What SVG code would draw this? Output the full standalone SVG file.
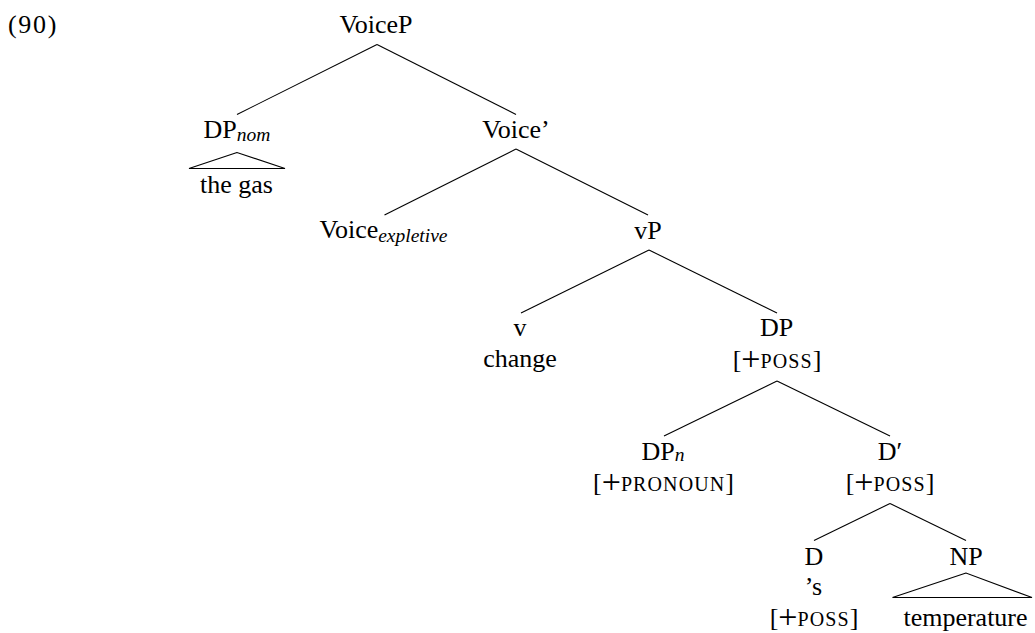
<svg xmlns="http://www.w3.org/2000/svg" width="1035" height="633" viewBox="0 0 1035 633" font-family="'Liberation Serif', 'DejaVu Serif', serif">
<style>
text{font-family:'Liberation Serif','DejaVu Serif',serif;font-size:26px;fill:#000;text-anchor:middle}
.sub{font-size:19.5px;font-style:italic}
.sc{font-size:20px;letter-spacing:1.1px}
.pl{font-size:34px}
.edge{stroke:#000;stroke-width:1.1;fill:none}
.tri{stroke:#000;stroke-width:1.1;fill:none;stroke-linejoin:miter}
</style>
<rect width="1035" height="633" fill="#fff"/>
<text x="8" y="33" style="text-anchor:start;letter-spacing:1.7px">(90)</text>
<g id="connectors">
<line class="edge" x1="377" y1="44.5" x2="237" y2="114.5"/>
<line class="edge" x1="377" y1="44.5" x2="516" y2="114.5"/>
<line class="edge" x1="516" y1="149" x2="384.5" y2="215"/>
<line class="edge" x1="516" y1="149" x2="648" y2="215"/>
<line class="edge" x1="649" y1="250" x2="521" y2="313"/>
<line class="edge" x1="649" y1="250" x2="777" y2="313"/>
<line class="edge" x1="777" y1="381" x2="664" y2="436"/>
<line class="edge" x1="777" y1="381" x2="890" y2="436"/>
<line class="edge" x1="890" y1="503.5" x2="814" y2="540.5"/>
<line class="edge" x1="890" y1="503.5" x2="966" y2="540.5"/>
</g>
<g id="n-voicep"><text x="376" y="33">VoiceP</text></g>
<g id="n-dpnom">
<text x="237" y="137.5">DP<tspan class="sub" dy="3.5">nom</tspan></text>
<polygon class="tri" points="237,152.5 189,168.5 285,168.5"/>
<text x="236.5" y="193">the gas</text>
</g>
<g id="n-voicebar"><text x="516" y="137.5">Voice’</text></g>
<g id="n-voiceexpl"><text x="383.5" y="238">Voice<tspan class="sub" dy="4">expletive</tspan></text></g>
<g id="n-vp"><text x="648" y="238.5">vP</text></g>
<g id="n-v">
<text x="520" y="336">v</text>
<text x="520" y="367">change</text>
</g>
<g id="n-dp">
<text x="776.5" y="336">DP</text>
<text x="777" y="368">[<tspan class="pl" dy="2">+</tspan><tspan class="sc" dy="-2">POSS</tspan>]</text>
</g>
<g id="n-dpn">
<text x="663" y="459.5">DP<tspan class="sub" dy="1">n</tspan></text>
<text x="663.5" y="491">[<tspan class="pl" dy="2">+</tspan><tspan class="sc" dy="-2">PRONOUN</tspan>]</text>
</g>
<g id="n-dbar">
<text x="890" y="459.5">D′</text>
<text x="890" y="491">[<tspan class="pl" dy="2">+</tspan><tspan class="sc" dy="-2">POSS</tspan>]</text>
</g>
<g id="n-d">
<text x="814" y="564.5">D</text>
<text x="813.5" y="595">’s</text>
<text x="814" y="626">[<tspan class="pl" dy="2">+</tspan><tspan class="sc" dy="-2">POSS</tspan>]</text>
</g>
<g id="n-np">
<text x="966" y="564.5">NP</text>
<polygon class="tri" points="966,573 892.5,597.5 1032,597.5"/>
<text x="965.5" y="625.5">temperature</text>
</g>
</svg>
